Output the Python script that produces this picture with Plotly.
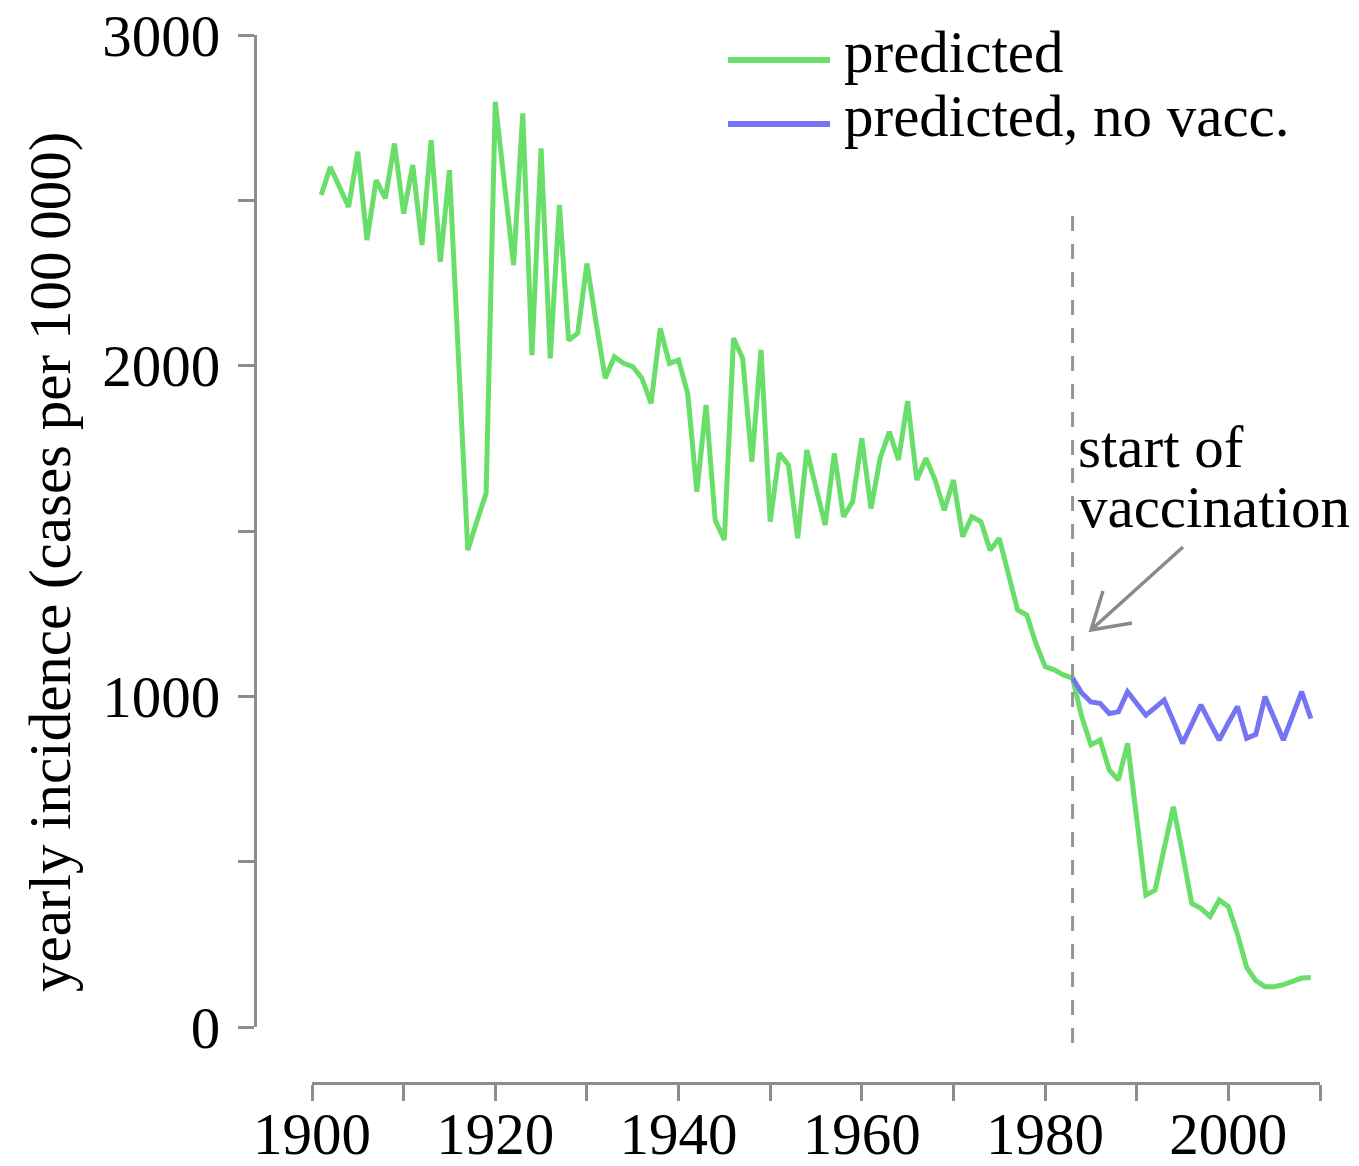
import plotly.graph_objects as go

# Yearly incidence per 100 000, model prediction (with vaccination from 1983)
years = list(range(1901, 2010))
predicted = [
    2516, 2601, 2540, 2480, 2647, 2380, 2561, 2506, 2672, 2460,   # 1901-1910
    2607, 2365, 2682, 2314, 2591, 2017, 1442, 1530, 1614, 2798,   # 1911-1920
    2550, 2304, 2763, 2032, 2657, 2022, 2486, 2077, 2098, 2309,   # 1921-1930
    2130, 1962, 2027, 2007, 1997, 1962, 1886, 2113, 2007, 2017,   # 1931-1940
    1916, 1619, 1881, 1533, 1473, 2083, 2022, 1709, 2048, 1528,   # 1941-1950
    1735, 1699, 1478, 1745, 1630, 1518, 1735, 1543, 1589, 1780,   # 1951-1960
    1568, 1720, 1800, 1715, 1893, 1654, 1720, 1654, 1563, 1654,   # 1961-1970
    1483, 1543, 1528, 1442, 1478, 1370, 1261, 1246, 1160, 1090,   # 1971-1980
    1080, 1065, 1055, 938, 853, 868, 777, 747, 858, 630,          # 1981-1990
    399, 414, 540, 666, 525, 374, 359, 334, 384, 364,             # 1991-2000
    280, 180, 140, 122, 122, 128, 138, 148, 150,                  # 2001-2009
]

# Counterfactual prediction without vaccination, from 1983 on
years_novacc = list(range(1983, 2010))
predicted_novacc = [
    1055, 1010, 983, 979, 948, 953, 1014, 979, 943, 966,          # 1983-1992
    989, 925, 858, 915, 974, 920, 868, 920, 969, 873,             # 1993-2002
    885, 999, 935, 868, 940, 1014, 933,                           # 2003-2009
]

vaccination_year = 1983

x_tickvals = list(range(1900, 2011, 10))
x_ticktext = ["1900", "", "1920", "", "1940", "", "1960", "", "1980", "", "2000", ""]
y_tickvals = [0, 500, 1000, 1500, 2000, 2500, 3000]
y_ticktext = ["0", "", "1000", "", "2000", "", "3000"]

GREEN = "#6ade6a"
BLUE = "#7474f4"
AXIS_GREY = "#8c8c8c"
FONT = "Liberation Serif, Times New Roman, serif"
FS = 59

fig = go.Figure()
fig.add_trace(go.Scatter(
    x=years, y=predicted, mode="lines", name="predicted",
    line=dict(color=GREEN, width=5), showlegend=False,
))
fig.add_trace(go.Scatter(
    x=years_novacc, y=predicted_novacc, mode="lines", name="predicted, no vacc.",
    line=dict(color=BLUE, width=5), showlegend=False,
))

W, H = 1359, 1166
ML, MR, MT, MB = 255, 29, 35, 83
pw, ph = W - ML - MR, H - MT - MB


def px_x(p):
    return (p - ML) / pw


def px_y(p):
    return (H - MB - p) / ph


fig.update_layout(
    width=W, height=H,
    margin=dict(l=ML, r=MR, t=MT, b=MB),
    paper_bgcolor="white", plot_bgcolor="white",
    font=dict(family=FONT, size=FS, color="black"),
    xaxis=dict(
        domain=[px_x(312), px_x(1320)], range=[1900, 2010],
        anchor="free", position=0, automargin=False,
        showline=True, linecolor=AXIS_GREY, linewidth=3,
        ticks="outside", ticklen=16, tickwidth=2.5, tickcolor=AXIS_GREY,
        tickvals=x_tickvals, ticktext=x_ticktext, ticklabelstandoff=-18,
        showgrid=False, zeroline=False,
    ),
    yaxis=dict(
        domain=[px_y(1027), 1], range=[0, 3000],
        anchor="free", position=0, automargin=False,
        showline=True, linecolor=AXIS_GREY, linewidth=3,
        ticks="outside", ticklen=16, tickwidth=2.5, tickcolor=AXIS_GREY,
        tickvals=y_tickvals, ticktext=y_ticktext, ticklabelstandoff=6,
        showgrid=False, zeroline=False,
    ),
)

# start-of-vaccination marker
fig.add_shape(
    type="line", xref="x", yref="paper",
    x0=vaccination_year, x1=vaccination_year, y0=px_y(1043), y1=px_y(205),
    line=dict(color="#959595", width=3, dash="15px,13px"),
)
for line_text, ypx in [("start of", 447), ("vaccination", 507)]:
    fig.add_annotation(
        xref="paper", yref="paper", x=px_x(1076), y=px_y(ypx),
        text=line_text, showarrow=False, xanchor="left", yanchor="middle",
    )

# arrow pointing at the vaccination line
tip = (1091, 630)
tail = (1183, 547)
arm_a = (1132, 623)
arm_b = (1103, 591)
arrow_path = (
    f"M{px_x(tail[0])},{px_y(tail[1])} L{px_x(tip[0])},{px_y(tip[1])} "
    f"M{px_x(arm_a[0])},{px_y(arm_a[1])} L{px_x(tip[0])},{px_y(tip[1])} "
    f"L{px_x(arm_b[0])},{px_y(arm_b[1])}"
)
fig.add_shape(
    type="path", xref="paper", yref="paper", path=arrow_path,
    line=dict(color="#8a8a8a", width=3.5),
)

# legend
legend_items = [("predicted", GREEN, 60), ("predicted, no vacc.", BLUE, 124)]
for label, color, ypx in legend_items:
    fig.add_shape(
        type="line", xref="paper", yref="paper",
        x0=px_x(728), x1=px_x(830), y0=px_y(ypx), y1=px_y(ypx),
        line=dict(color=color, width=6),
    )
    fig.add_annotation(
        xref="paper", yref="paper", x=px_x(842), y=px_y(ypx - 8),
        text=label, showarrow=False, xanchor="left", yanchor="middle",
    )

# y-axis title
fig.add_annotation(
    xref="paper", yref="paper", x=px_x(50), y=px_y(562),
    text="yearly incidence (cases per 100\u2009000)", showarrow=False,
    textangle=-90, xanchor="center", yanchor="middle",
)

fig.write_html("out.html")
